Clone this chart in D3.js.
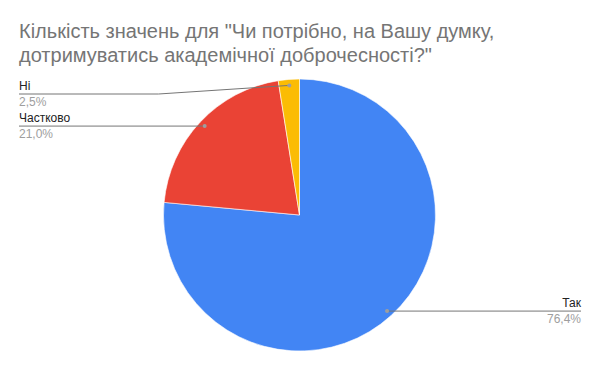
<!DOCTYPE html>
<meta charset="utf-8">
<style>
body { margin: 0; background: #fff; font-family: Arial, "Liberation Sans", sans-serif; }
.title { fill: #757575; font-size: 20px; }
.lbl { fill: #222; font-size: 12px; }
.pct { fill: #9e9e9e; font-size: 12px; }
.leader { stroke: #757575; stroke-width: 1; fill: none; }
</style>
<svg width="600" height="371"></svg>
<script src="https://d3js.org/d3.v7.min.js"></script>
<script>

var categories = ["Так", "Частково", "Ні"];
var values = [76.4, 21.0, 2.5];
var pctLabels = ["76,4%", "21,0%", "2,5%"];
var colors = ["#4285F4", "#EA4335", "#FBBC04"];
var titleLines = ["Кількість значень для \"Чи потрібно, на Вашу думку,", "дотримуватись академічної доброчесності?\""];

var svg = d3.select("svg"),
    width = +svg.attr("width"),
    height = +svg.attr("height");

var cx = 299.5, cy = 215, r = 136;

// title
svg.append("g").selectAll("text")
  .data(titleLines)
  .enter().append("text")
    .attr("class", "title")
    .attr("x", 19)
    .attr("y", function(d, i) { return 38 + i * 24; })
    .text(function(d) { return d; });

var data = categories.map(function(c, i) { return {name: c, value: values[i], pct: pctLabels[i], color: colors[i]}; });

var pie = d3.pie().sort(null).value(function(d) { return d.value; });
var arc = d3.arc().innerRadius(0).outerRadius(r);
var arcs = pie(data);

var g = svg.append("g").attr("transform", "translate(" + cx + "," + cy + ")");

g.selectAll("path")
  .data(arcs)
  .enter().append("path")
    .attr("d", arc)
    .attr("fill", function(d) { return d.data.color; })
    .attr("stroke", "#fff")
    .attr("stroke-width", 0.6);

// leader lines + labels
var dotR = r - 6;
var minLeftY = 94;
arcs.forEach(function(d) {
  var a = (d.startAngle + d.endAngle) / 2;
  var px = cx + Math.sin(a) * dotR,
      py = cy - Math.cos(a) * dotR;
  var right = Math.sin(a) > 0;
  var ly = right ? py : Math.max(py, minLeftY);
  var pts;
  if (right) {
    pts = [[px, py], [581, ly]];
  } else if (ly !== py) {
    pts = [[px, py], [cx - r - 5, ly], [19, ly]];
  } else {
    pts = [[px, py], [19, ly]];
  }
  svg.append("path")
    .attr("class", "leader")
    .attr("d", d3.line()(pts));
  svg.append("circle")
    .attr("cx", px).attr("cy", py).attr("r", 2)
    .attr("fill", "#9e9e9e");

  var tx = right ? 581 : 19,
      anchor = right ? "end" : "start";
  svg.append("text")
    .attr("class", "lbl")
    .attr("x", tx).attr("y", ly - 4)
    .attr("text-anchor", anchor)
    .text(d.data.name);
  svg.append("text")
    .attr("class", "pct")
    .attr("x", tx).attr("y", ly + 12)
    .attr("text-anchor", anchor)
    .text(d.data.pct);
});

</script>
